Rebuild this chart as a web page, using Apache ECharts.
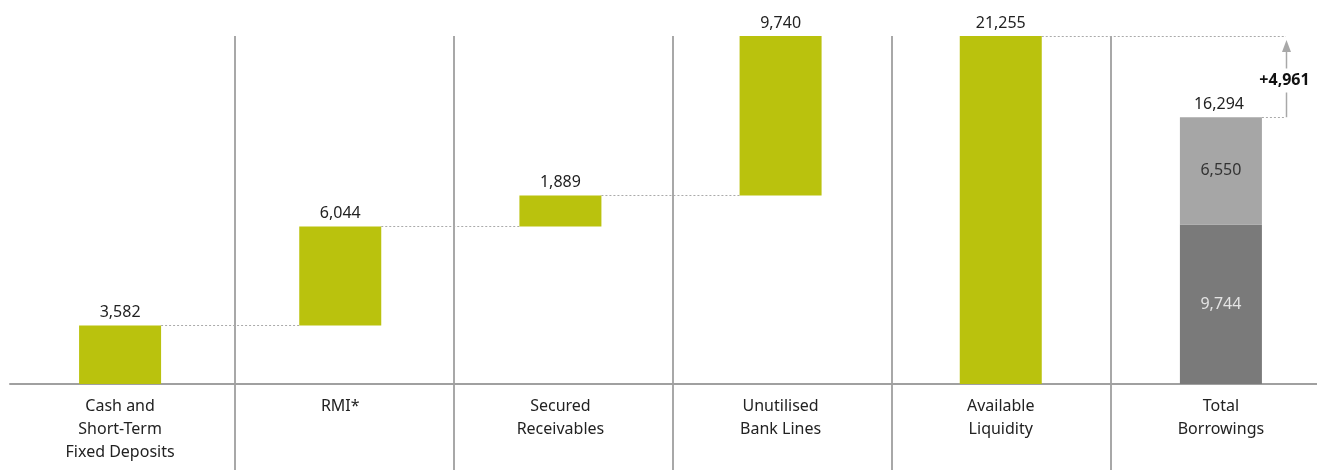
<!DOCTYPE html>
<html>
<head>
<meta charset="utf-8">
<script src="https://cdn.jsdelivr.net/npm/echarts@6/dist/echarts.min.js"></script>
<style>
html,body{margin:0;padding:0;background:#fff;}
#chart{width:1317px;height:470px;}
</style>
</head>
<body>
<div id="chart"></div>
<script>
// ---- data ----
const categories = ['Cash and\nShort-Term\nFixed Deposits', 'RMI*', 'Secured\nReceivables', 'Unutilised\nBank Lines', 'Available\nLiquidity', 'Total\nBorrowings'];
const liquidityParts = [3582, 6044, 1889, 9740];   // waterfall steps
const availableLiquidity = 21255;
const borrowingsDark = 9744;
const borrowingsLight = 6550;
const borrowingsTotal = 16294;
const headroom = 4961;

// ---- styling ----
const GREEN = '#bac20d';
const LIGHT = '#a6a6a6';
const DARK = '#7a7a7a';
const FONT = 'Noto Sans';
const BAR_W = 82;

const fmt = v => String(v).replace(/\B(?=(\d{3})+(?!\d))/g, ',');

// derived waterfall bases
const bases = [];
let acc = 0;
liquidityParts.forEach(v => { bases.push(acc); acc += v; });
const baseSeries = bases.concat([0, '-']);
const greenSeries = liquidityParts.concat([availableLiquidity, '-']);
const darkSeries = ['-', '-', '-', '-', '-', borrowingsDark];
const lightSeries = ['-', '-', '-', '-', '-', borrowingsLight];

// connectors: [fromIndex, toIndex (-1 = arrow column), value]
const connectors = [];
let c = 0;
for (let i = 0; i < liquidityParts.length - 1; i++) {
  c += liquidityParts[i];
  connectors.push([i, i + 1, c]);
}
connectors.push([4, -1, availableLiquidity]);
connectors.push([5, -1, borrowingsTotal]);

const ARROW_OFFSET = 24; // px right of total bar edge

const chart = echarts.init(document.getElementById('chart'), null, {renderer: 'canvas'});
chart.setOption({
  animation: false,
  textStyle: {fontFamily: FONT},
  grid: [
    {left: 10, width: 1321, top: 36, bottom: 84, containLabel: false, outerBoundsMode: 'none'},
    {left: 16, width: 1314, top: 36, bottom: 0, containLabel: false, outerBoundsMode: 'none'}
  ],
  xAxis: [
    {
      type: 'category', gridIndex: 0, data: categories,
      axisLine: {show: true, lineStyle: {color: '#a0a0a0', width: 2}},
      axisTick: {show: false},
      axisLabel: {color: '#222', fontSize: 16, lineHeight: 23, margin: 9, fontFamily: FONT, interval: 0}
    },
    {
      type: 'value', gridIndex: 1, min: 0, max: 6, interval: 1,
      axisLine: {show: false}, axisTick: {show: false}, axisLabel: {show: false},
      splitLine: {show: true, showMinLine: false, showMaxLine: false, lineStyle: {color: '#a8a8a8', width: 2}}
    }
  ],
  yAxis: [
    {type: 'value', gridIndex: 0, min: -120, max: availableLiquidity, show: false,
     axisLine: {onZero: false}, splitLine: {show: false}},
    {type: 'value', gridIndex: 1, min: 0, max: 1, show: false, splitLine: {show: false}}
  ],
  series: [
    {
      type: 'scatter', xAxisIndex: 1, yAxisIndex: 1, data: [], silent: true
    },
    {
      name: 'base', type: 'bar', stack: 'w', barWidth: BAR_W, data: baseSeries,
      itemStyle: {color: 'transparent'}, silent: true
    },
    {
      name: 'liquidity', type: 'bar', stack: 'w', barWidth: BAR_W, data: greenSeries,
      itemStyle: {color: GREEN},
      label: {show: true, position: 'top', distance: 5, color: '#222', fontSize: 16, fontFamily: FONT,
              formatter: p => fmt(p.value)}
    },
    {
      name: 'dark', type: 'bar', stack: 'w', barWidth: BAR_W, data: darkSeries,
      itemStyle: {color: DARK},
      label: {show: true, position: 'inside', color: '#e4e4e4', fontSize: 16, fontFamily: FONT,
              formatter: p => fmt(p.value)}
    },
    {
      name: 'light', type: 'bar', stack: 'w', barWidth: BAR_W, data: lightSeries,
      itemStyle: {color: LIGHT},
      label: {show: true, position: 'inside', color: '#333', fontSize: 16, fontFamily: FONT,
              formatter: p => fmt(p.value)}
    },
    {
      name: 'connectors', type: 'custom', silent: true, z: 1,
      encode: {x: 0, y: 2},
      data: connectors,
      renderItem: function (params, api) {
        const from = api.value(0), to = api.value(1), v = api.value(2);
        const p1 = api.coord([from, v]);
        const x1 = p1[0] + BAR_W / 2;
        let x2;
        if (to >= 0) {
          x2 = api.coord([to, v])[0] - BAR_W / 2;
        } else {
          x2 = api.coord([5, v])[0] + BAR_W / 2 + ARROW_OFFSET;
        }
        const y = Math.round(p1[1]) + 0.5;
        return {
          type: 'line',
          shape: {x1: x1, y1: y, x2: x2, y2: y},
          style: {stroke: '#aaa', lineWidth: 1, lineDash: [2, 2]}
        };
      }
    },
    {
      name: 'headroom', type: 'custom', silent: true, z: 5,
      encode: {x: 0, y: 1},
      data: [[5, borrowingsTotal, availableLiquidity, headroom]],
      renderItem: function (params, api) {
        const idx = api.value(0);
        const lo = api.coord([idx, api.value(1)]);
        const hi = api.coord([idx, api.value(2)]);
        const x = Math.round(lo[0] + BAR_W / 2 + ARROW_OFFSET) + 0.5;
        const yTop = hi[1] + 4;
        const yBot = lo[1];
        const mid = (yTop + yBot) / 2 + 2;
        return {
          type: 'group',
          children: [
            {type: 'line', shape: {x1: x, y1: yTop + 10, x2: x, y2: yBot},
             style: {stroke: '#a8a8a8', lineWidth: 1.5}},
            {type: 'polygon', shape: {points: [[x, yTop], [x - 4.5, yTop + 12], [x + 4.5, yTop + 12]]},
             style: {fill: '#a8a8a8'}},
            {type: 'text', x: x - 2, y: mid,
             style: {text: '+' + fmt(api.value(3)), font: 'bold 16px "' + FONT + '"', fill: '#111',
                     align: 'center', verticalAlign: 'middle', backgroundColor: '#fff', padding: [4, 2]}},
            {type: 'text', x: lo[0] - 2, y: lo[1] - 5,
             style: {text: fmt(api.value(1)), font: '16px "' + FONT + '"', fill: '#222',
                     align: 'center', verticalAlign: 'bottom'}}
          ]
        };
      }
    }
  ]
});
</script>
</body>
</html>
